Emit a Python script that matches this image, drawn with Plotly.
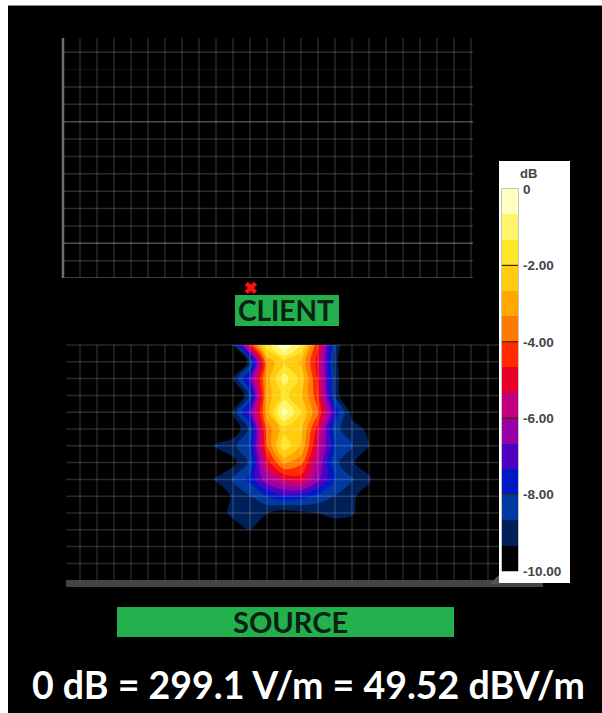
import plotly.graph_objects as go

W, H = 602, 713
# x: grid column index, px = 63 + 17*i
X0, DX = 63, 17.0
# lower field grid: row index, px = 345 + 16.8*r
Y0, DY = 345, 16.8

columns = [8, 9, 10, 11, 12, 13, 14, 15, 16, 17, 18, 19]
rows = [0, 1, 2, 3, 4, 5, 6, 7, 8, 9, 10, 11]
field_db = [
    [-11, -11, -9.2, -4.6, -1.5, 0.0, -1.3, -4.5, -8.6, -11, -11, -11],
    [-11, -11, -11, -9.0, -3.2, -2.0, -2.8, -5.0, -9.0, -11, -11, -11],
    [-11, -11, -9.4, -7.0, -3.0, -1.0, -2.2, -4.8, -8.8, -11, -11, -11],
    [-11, -11, -11, -8.5, -3.0, -1.8, -2.5, -4.5, -8.8, -11, -11, -11],
    [-11, -11, -9.2, -7.0, -3.0, -0.3, -2.0, -4.0, -7.5, -9.6, -11, -11],
    [-11, -11, -10.0, -8.5, -3.7, -2.3, -2.5, -5.0, -8.5, -9.0, -9.5, -11],
    [-11, -9.1, -8.8, -8.2, -4.0, -1.5, -2.7, -5.5, -8.0, -8.6, -9.3, -11],
    [-11, -11, -9.6, -8.5, -5.0, -3.2, -3.8, -6.0, -8.5, -9.2, -10.0, -11],
    [-11, -9.1, -8.6, -7.8, -6.2, -5.3, -5.0, -6.5, -8.0, -8.6, -9.1, -11],
    [-11, -11, -9.0, -8.7, -8.0, -7.5, -7.7, -8.2, -8.7, -9.1, -10.0, -11],
    [-11, -10.0, -9.0, -9.0, -9.3, -9.7, -9.5, -9.3, -9.0, -9.1, -10.5, -11],
    [-11, -11, -10.0, -9.2, -10.5, -11, -11, -11, -10.0, -10.5, -11, -11],
]

band_colors = ["#000000", "#00205A", "#003AA0", "#0018C8", "#5000C0",
               "#9A00A8", "#C00080", "#E8002A", "#FF2A00", "#FF7A00",
               "#FFA800", "#FFCC10", "#FFE52A", "#FFF56A", "#FFFFC0"]
band_edges_db = [-10, -9.333, -8.667, -8, -7.333, -6.667, -6, -5.333, -4.667,
                 -4, -3.333, -2.667, -2, -1.333, -0.667, 0]
scale_ticks = [0, -2, -4, -6, -8, -10]
scale_labels = ["0", "-2.00", "-4.00", "-6.00", "-8.00", "-10.00"]

upper_cols = list(range(0, 25))
upper_rows = list(range(0, 14))
upper_strong_rows = [0, 2, 9]
upper_faint_rows = [12]
lower_cols = list(range(1, 26))
lower_rows = list(range(0, 14))

probe_col, probe_row = 11.05, -3.4
client_label = "CLIENT"
source_label = "SOURCE"
footer = "0 dB = 299.1 V/m = 49.52 dBV/m"

n = len(band_colors)
colorscale = []
for i, c in enumerate(band_colors):
    colorscale += [[i / n, c], [(i + 1) / n, c]]

def px(x): return x / W
def py(y): return 1 - y / H

fig = go.Figure()

fig.add_trace(go.Contour(
    x=columns, y=rows, z=field_db, colorscale=colorscale, zmin=-10, zmax=0,
    autocontour=False, contours=dict(start=-10, end=0, size=2 / 3, coloring="fill"),
    line=dict(width=0), showscale=False, hoverinfo="skip", xaxis="x", yaxis="y"))

def vlines(cols, a, b):
    xs, ys = [], []
    for c in cols:
        xs += [c, c, None]; ys += [a, b, None]
    return xs, ys

def hlines(rws, a, b):
    xs, ys = [], []
    for r in rws:
        xs += [a, b, None]; ys += [r, r, None]
    return xs, ys

def line_trace(xs, ys, color, width, yaxis):
    fig.add_trace(go.Scatter(x=xs, y=ys, mode="lines", xaxis="x", yaxis=yaxis,
                             line=dict(color=color, width=width), hoverinfo="skip",
                             showlegend=False, connectgaps=False))

# lower grid
xs, ys = vlines(lower_cols, 0, 14)
line_trace(xs, ys, "rgba(255,255,255,0.15)", 1.5, "y")
xs, ys = hlines(lower_rows, (66 - X0) / DX, (499 - X0) / DX)
line_trace(xs, ys, "rgba(255,255,255,0.16)", 1.5, "y")

# upper grid
xs, ys = vlines(upper_cols[1:], 0, 13.82)
line_trace(xs, ys, "rgba(255,255,255,0.16)", 1.5, "y2")
xs, ys = hlines([r for r in upper_rows if r not in upper_faint_rows], 0, (473 - X0) / DX)
line_trace(xs, ys, "rgba(255,255,255,0.17)", 1.5, "y2")
xs, ys = hlines(upper_faint_rows, 0, (473 - X0) / DX)
line_trace(xs, ys, "rgba(255,255,255,0.06)", 1.5, "y2")
xs, ys = hlines(upper_strong_rows, 0, (473 - X0) / DX)
line_trace(xs, ys, "rgba(255,255,255,0.16)", 1.5, "y2")
xs, ys = vlines([0], 0, 13.82)
line_trace(xs, ys, "#6e6e6e", 2.5, "y2")

# probe marker
fig.add_trace(go.Scatter(x=[probe_col], y=[probe_row], mode="markers", xaxis="x", yaxis="y",
                         marker=dict(symbol="x", size=11, color="#FF1010", line=dict(width=0)),
                         hoverinfo="skip", showlegend=False))

# colour scale bar
fig.add_trace(go.Heatmap(
    x=[0, 1], y=band_edges_db, z=[[i] for i in range(n)], colorscale=colorscale,
    zmin=0, zmax=n, showscale=False, xaxis="x3", yaxis="y3", hoverinfo="skip", xgap=0, ygap=0))
xs, ys = [], []
for t in scale_ticks[1:-1]:
    xs += [0, 1.25, None]; ys += [t, t, None]
fig.add_trace(go.Scatter(x=xs, y=ys, mode="lines", xaxis="x3", yaxis="y3",
                         line=dict(color="#3a2a00", width=1.2), cliponaxis=False,
                         hoverinfo="skip", showlegend=False))

shapes = [
    dict(type="rect", xref="paper", yref="paper", x0=px(8), x1=1, y0=py(5), y1=0,
         fillcolor="#000000", line_width=0, layer="below"),
    dict(type="rect", xref="paper", yref="paper", x0=px(8), x1=1, y0=py(5), y1=py(6),
         fillcolor="#888888", line_width=0, layer="below"),
    dict(type="rect", xref="paper", yref="paper", x0=px(66), x1=px(543), y0=py(580), y1=py(587),
         fillcolor="#444444", line_width=0, layer="below"),
    dict(type="path", xref="paper", yref="paper",
         path=f"M {px(490)} {py(584)} L {px(499)} {py(575)} L {px(499)} {py(584)} Z",
         fillcolor="#555555", line_width=0, layer="below"),
    dict(type="rect", xref="paper", yref="paper", x0=px(499), x1=px(570), y0=py(161), y1=py(583),
         fillcolor="#FFFFFF", line_width=0, layer="below"),
    dict(type="rect", xref="paper", yref="paper", x0=px(501.5), x1=px(518.5), y0=py(188.5), y1=py(571.5),
         fillcolor="#888888", line_width=0, layer="below"),
    dict(type="rect", xref="paper", yref="paper", x0=px(235), x1=px(339), y0=py(295), y1=py(326),
         fillcolor="#22B14C", line_width=0, layer="above"),
    dict(type="rect", xref="paper", yref="paper", x0=px(117), x1=px(454), y0=py(607), y1=py(637),
         fillcolor="#22B14C", line_width=0, layer="above"),
]

def note(text, x, y, size, color, family="Lato, sans-serif", bold=False):
    return dict(text=f"<b>{text}</b>" if bold else text, x=px(x), y=py(y), xref="paper", yref="paper",
                showarrow=False, xanchor="center", yanchor="middle",
                font=dict(size=size, color=color, family=family))

annotations = [
    note(client_label, 286, 310, 28, "#0a2010", bold=True),
    note(source_label, 290, 621, 29, "#0a2010", bold=True),
    note(footer, 308.5, 684, 37.5, "#FFFFFF", bold=True),
    note("dB", 528, 173, 13, "#444444", family="Liberation Sans, sans-serif", bold=True),
]

fig.update_layout(
    width=W, height=H, margin=dict(l=0, r=0, t=0, b=0, pad=0, autoexpand=False), autosize=False,
    paper_bgcolor="#FFFFFF", plot_bgcolor="rgba(0,0,0,0)", showlegend=False,
    shapes=shapes, annotations=annotations,
    xaxis=dict(domain=[0, 1], range=[(0 - X0) / DX, (W - X0) / DX], visible=False, fixedrange=True),
    yaxis=dict(domain=[0, 1], range=[(H - Y0) / DY, (0 - Y0) / DY], visible=False, fixedrange=True),
    yaxis2=dict(domain=[py(278), py(38)], range=[0, 13.82], visible=False, anchor="x", fixedrange=True),
    xaxis3=dict(domain=[px(502), px(518)], range=[0, 1], visible=False, anchor="y3", fixedrange=True),
    yaxis3=dict(domain=[py(571), py(189)], range=[-10, 0], anchor="x3", side="right",
                tickmode="array", tickvals=scale_ticks, ticktext=scale_labels, showgrid=False,
                zeroline=False, ticks="", showline=False, ticklabelstandoff=4,
                tickfont=dict(size=13.5, color="#444444", family="Liberation Sans, sans-serif", weight="bold"),
                fixedrange=True),
)
fig.write_html("out.html", config=dict(displayModeBar=False),
               post_script="document.body.style.margin='0';document.documentElement.style.overflow='hidden';")
